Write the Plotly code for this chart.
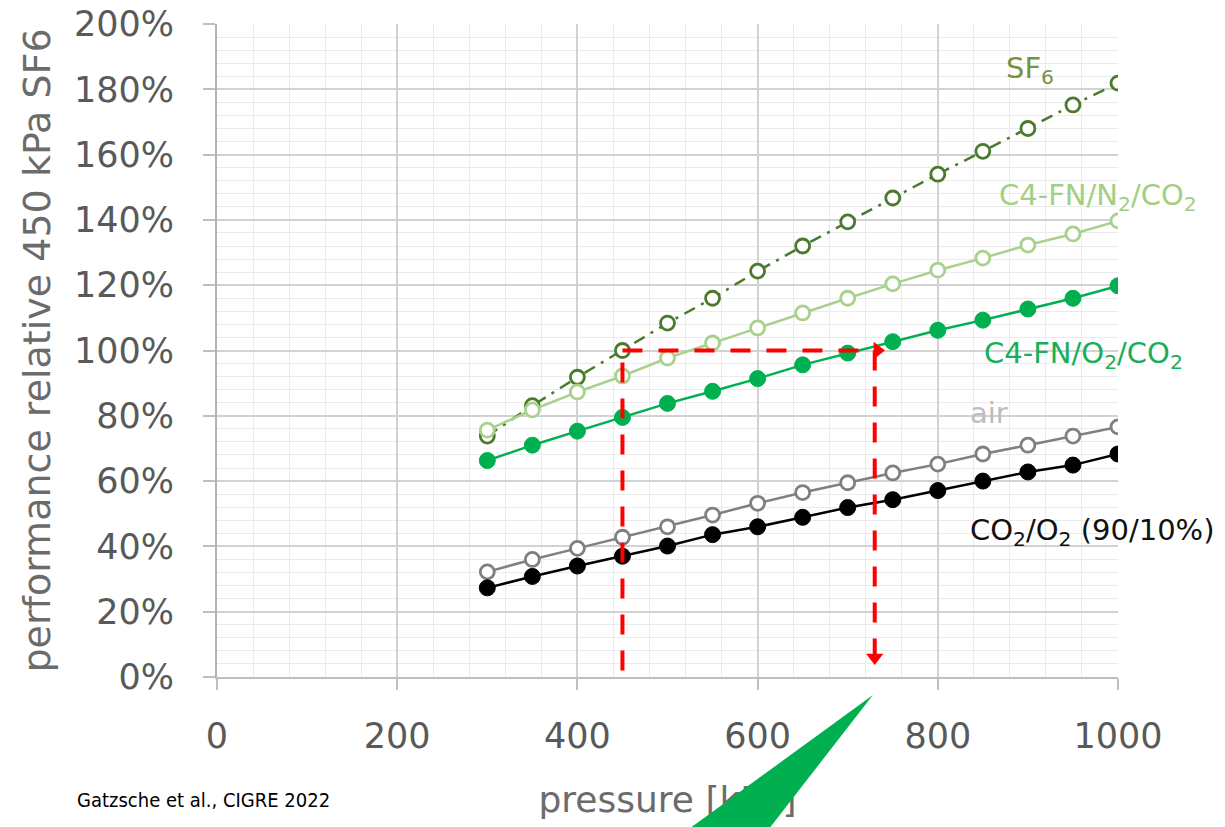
import plotly.graph_objects as go

# ---------------- data ----------------
pressure = [300, 350, 400, 450, 500, 550, 600, 650, 700, 750, 800, 850, 900, 950, 1000]

sf6 = [0.738, 0.831, 0.918, 1.000, 1.084, 1.160, 1.243, 1.320, 1.394, 1.467, 1.540, 1.610, 1.680, 1.752, 1.819]
c4fn_n2_co2 = [0.756, 0.818, 0.873, 0.922, 0.977, 1.023, 1.069, 1.115, 1.160, 1.204, 1.246, 1.283, 1.323, 1.357, 1.397]
c4fn_o2_co2 = [0.663, 0.710, 0.753, 0.795, 0.838, 0.875, 0.914, 0.956, 0.992, 1.027, 1.062, 1.093, 1.127, 1.160, 1.198]
air = [0.322, 0.360, 0.394, 0.428, 0.460, 0.496, 0.532, 0.565, 0.595, 0.625, 0.652, 0.683, 0.710, 0.738, 0.766]
co2_o2 = [0.273, 0.308, 0.340, 0.370, 0.401, 0.436, 0.460, 0.489, 0.519, 0.543, 0.571, 0.600, 0.628, 0.649, 0.683]

series_names = ["SF<sub>6</sub>", "C4-FN/N<sub>2</sub>/CO<sub>2</sub>", "C4-FN/O<sub>2</sub>/CO<sub>2</sub>",
                "air", "CO<sub>2</sub>/O<sub>2</sub> (90/10%)"]

x_ticks = [0, 200, 400, 600, 800, 1000]
y_ticks = [0, 0.2, 0.4, 0.6, 0.8, 1.0, 1.2, 1.4, 1.6, 1.8, 2.0]
y_tick_labels = ["0%", "20%", "40%", "60%", "80%", "100%", "120%", "140%", "160%", "180%", "200%"]

x_title = "pressure [kPa]"
y_title = "performance relative 450 kPa SF6"

# equivalence construction: 450 kPa SF6 = 100 %  ->  C4-FN/O2/CO2 needs ~730 kPa
ref_pressure = 450
ref_level = 1.0
equiv_pressure = 730

# label positions (data coords) for series names
label_x = [874, 866, 849, 834, 834]
label_y = [1.86, 1.47, 0.985, 0.81, 0.445]

# ---------------- figure ----------------
H = 827
B = 150                      # height of the strip below the main plot
MAIN_BOTTOM = B / (H - 24)   # main plot domain start (margin t=24, b=0)

fig = go.Figure()

TICK_FONT = dict(family="DejaVu Sans", size=35, color="#595959")

styles = [
    dict(line=dict(color="#4b7a2c", width=2.5, dash="12px,7px,3px,7px"),
         marker=dict(symbol="circle", size=14, color="white", line=dict(color="#4b7a2c", width=2.8))),
    dict(line=dict(color="#a9d18e", width=2.5),
         marker=dict(symbol="circle", size=14, color="white", line=dict(color="#a9d18e", width=2.8))),
    dict(line=dict(color="#00b050", width=2.5),
         marker=dict(symbol="circle", size=16, color="#00b050", line=dict(color="#00b050", width=1))),
    dict(line=dict(color="#808080", width=2.5),
         marker=dict(symbol="circle", size=14, color="white", line=dict(color="#808080", width=2.8))),
    dict(line=dict(color="#000000", width=2.5),
         marker=dict(symbol="circle", size=16, color="#000000", line=dict(color="#000000", width=1))),
]
label_colors = ["#77933c", "#a2cf84", "#1aae5a", "#bdbdbd", "#111111"]

all_series = [sf6, c4fn_n2_co2, c4fn_o2_co2, air, co2_o2]
for name, vals, st in zip(series_names, all_series, styles):
    fig.add_trace(go.Scatter(x=pressure, y=vals, mode="lines+markers", name=name,
                             line=st["line"], marker=st["marker"], showlegend=False))

# x-axis title drawn as text in a helper strip below the plot,
# so that the green callout can partly cover it, as in the original
fig.add_trace(go.Scatter(x=[500], y=[24], mode="text", text=[x_title], textposition="middle center",
                         textfont=dict(family="DejaVu Sans", size=36, color="#6b6b6b"),
                         xaxis="x2", yaxis="y2", hoverinfo="skip", showlegend=False))

# series labels
for name, lx, ly, col in zip(series_names, label_x, label_y, label_colors):
    fig.add_annotation(x=lx, y=ly, xref="x", yref="y", text=name, showarrow=False,
                       xanchor="left", yanchor="middle",
                       font=dict(family="DejaVu Sans", size=29, color=col))

# red dashed equivalence construction
RED = "#ff0000"
red_line = dict(color=RED, width=4, dash="20px,16px")
fig.add_shape(type="line", xref="x", yref="y", x0=ref_pressure, y0=0.02, x1=ref_pressure, y1=ref_level,
              line=red_line)
fig.add_shape(type="line", xref="x", yref="y", x0=ref_pressure, y0=ref_level, x1=equiv_pressure, y1=ref_level,
              line=red_line)
fig.add_shape(type="line", xref="x", yref="y", x0=equiv_pressure, y0=ref_level, x1=equiv_pressure, y1=0.07,
              line=red_line)
fig.add_trace(go.Scatter(x=[equiv_pressure + 3], y=[ref_level], mode="markers", showlegend=False,
                         hoverinfo="skip", marker=dict(symbol="triangle-right", size=15, color=RED)))
fig.add_trace(go.Scatter(x=[equiv_pressure], y=[0.06], mode="markers", showlegend=False,
                         hoverinfo="skip", marker=dict(symbol="triangle-down", size=15, color=RED)))

# green callout wedge (paper coordinates)
fig.add_shape(type="path", xref="paper", yref="paper",
              path="M 0.728 0.1644 L 0.507 -0.0162 L 0.603 -0.0162 Z",
              fillcolor="#00b050", line=dict(width=0), layer="above")

# citation
fig.add_annotation(x=-0.158, y=0.0336, xref="paper", yref="paper", text="Gatzsche et al., CIGRE 2022",
                   showarrow=False, xanchor="left", yanchor="middle",
                   font=dict(family="DejaVu Sans Condensed, Liberation Sans Narrow, DejaVu Sans", size=20,
                             color="#000000"))

fig.update_layout(
    width=1225, height=H,
    margin=dict(l=217, r=107, t=24, b=0, autoexpand=False),
    paper_bgcolor="white", plot_bgcolor="white",
    showlegend=False,
    xaxis=dict(
        range=[0, 1000], tickmode="array", tickvals=x_ticks, ticktext=[str(v) for v in x_ticks],
        tickfont=TICK_FONT, ticks="outside", ticklen=11, tickwidth=2, tickcolor="#bfbfbf",
        showline=True, linecolor="#bfbfbf", linewidth=2,
        showgrid=True, gridcolor="#d2d2d2", gridwidth=1.5,
        minor=dict(dtick=40, showgrid=True, gridcolor="#ebebeb", gridwidth=1),
        zeroline=False, ticklabelstandoff=16, automargin=False, anchor="y",
    ),
    yaxis=dict(
        domain=[MAIN_BOTTOM, 1.0],
        range=[0, 2.0], tickmode="array", tickvals=y_ticks, ticktext=y_tick_labels,
        tickfont=TICK_FONT, ticks="outside", ticklen=12, tickwidth=2, tickcolor="#bfbfbf",
        showline=True, linecolor="#b3b3b3", linewidth=2,
        showgrid=True, gridcolor="#d2d2d2", gridwidth=1.5,
        minor=dict(dtick=0.04, showgrid=True, gridcolor="#ebebeb", gridwidth=1),
        zeroline=False, ticklabelstandoff=22, automargin=False, anchor="x",
        title=dict(text=y_title, font=dict(family="DejaVu Sans", size=38, color="#6b6b6b"), standoff=12),
    ),
    xaxis2=dict(domain=[0, 1], range=[0, 1000], anchor="y2", visible=False, showgrid=False,
                zeroline=False, fixedrange=True),
    yaxis2=dict(domain=[0, MAIN_BOTTOM - 0.001], range=[0, B], anchor="x2", visible=False, showgrid=False,
                zeroline=False, fixedrange=True),
)

fig.write_html("out.html", config={"displayModeBar": False},
               post_script="document.body.style.margin='0';")
